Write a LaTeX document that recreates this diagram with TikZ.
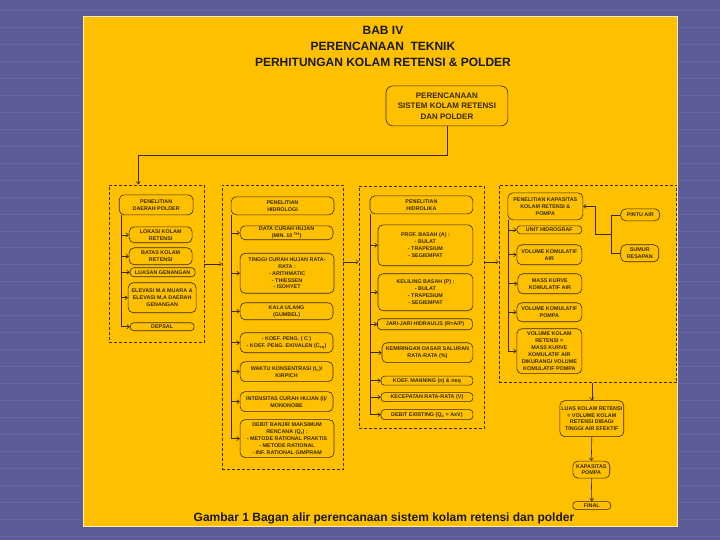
\documentclass[tikz,border=0pt]{standalone}
\usepackage{fontspec}
\setmainfont{Liberation Sans}
\usetikzlibrary{arrows.meta, calc}

\definecolor{slate}{HTML}{5C5C98}
\definecolor{slateline}{HTML}{6666A2}
\definecolor{amber}{HTML}{FFC000}
\definecolor{ink}{HTML}{3A2A05}
\definecolor{headink}{HTML}{1A1A1A}

\tikzset{
  box/.style={draw=ink, rounded corners=5pt, line width=0.6pt, align=center,
    inner sep=0.5pt, text=ink, font=\fontsize{5.4}{6.9}\selectfont\bfseries},
  slim/.style={rounded corners=3.5pt},
  group/.style={draw=ink, dash pattern=on 3pt off 2pt, line width=0.6pt},
  head/.style={align=center, text=headink, font=\fontsize{12}{16}\selectfont\bfseries},
}

\begin{document}
\begin{tikzpicture}[x=1pt, y=-1pt, >={Straight Barb[length=2.5pt,width=4pt]}, line width=0.6pt]
    % Background and sheet
    \fill[slate] (0,0) rectangle (720,540);
    \foreach \y in {10,27,...,540}
        \draw[slateline, line width=0.6pt] (0,\y) -- (720,\y);
    \draw[amber!30!white, fill=amber, line width=1pt] (83,17) rectangle (678,527);
    \useasboundingbox (0,0) rectangle (720,540);

    % Headings
    \node[head] (title) at (383,46) {BAB IV\\PERENCANAAN\ \ TEKNIK\\PERHITUNGAN KOLAM RETENSI \& POLDER};
    \node[head] (caption) at (384,519) {Gambar 1 Bagan alir perencanaan sistem kolam retensi dan polder};
    \node[box, rounded corners=7pt, minimum width=122pt, minimum height=40pt,
          font=\fontsize{8}{10.5}\selectfont\bfseries] (sistem) at (447,106)
          {PERENCANAAN\\SISTEM KOLAM RETENSI\\DAN POLDER};

    % Dashed groups
    \node[group, minimum width=95pt, minimum height=158pt] (g1) at (156.5,264) {};
    \node[group, minimum width=121pt, minimum height=285pt] (g2) at (282.5,327.5) {};
    \node[group, minimum width=125pt, minimum height=243pt] (g3) at (421.5,307.5) {};
    \node[group, minimum width=178pt, minimum height=198pt] (g4) at (588,284) {};

    % Daerah polder
    \node[box, minimum width=74pt, minimum height=20pt] (d1) at (156,205) {PENELITIAN\\DAERAH POLDER};
    \node[box, minimum width=63pt, minimum height=16pt] (d2) at (160.5,235) {LOKASI KOLAM\\RETENSI};
    \node[box, minimum width=63pt, minimum height=17pt] (d3) at (160.5,256.5) {BATAS KOLAM\\RETENSI};
    \node[box, slim, minimum width=65pt, minimum height=9pt] (d4) at (162.5,272.5) {LUASAN GENANGAN};
    \node[box, minimum width=68pt, minimum height=30pt] (d5) at (162,298) {ELEVASI M.A MUARA \&\\ELEVASI M.A DAERAH\\GENANGAN};
    \node[box, slim, minimum width=64pt, minimum height=8pt] (d6) at (162,327) {DEPSAL};

    % Hidrologi
    \node[box, minimum width=103pt, minimum height=18pt] (h1) at (282.5,206) {PENELITIAN\\HIDROLOGI};
    \node[box, minimum width=93pt, minimum height=14pt] (h2) at (286.5,233) {DATA CURAH HUJAN\\(MIN. 10 \textsuperscript{TH})};
    \node[box, minimum width=94pt, minimum height=40pt] (h3) at (287,273.5) {TINGGI CURAH HUJAN RATA-\\RATA :\\- ARITHMATIC\\- THIESSEN\\- ISOHYET};
    \node[box, minimum width=93pt, minimum height=17pt] (h4) at (286.5,311.5) {KALA ULANG\\(GUMBEL)};
    \node[box, minimum width=93pt, minimum height=20pt] (h5) at (286.5,343) {- KOEF. PENG. ( C )\\- KOEF. PENG. EKIVALEN (C\textsubscript{eq})};
    \node[box, minimum width=93pt, minimum height=20pt] (h6) at (286.5,372) {WAKTU KONSENTRASI (t\textsubscript{c})/\\KIRPICH};
    \node[box, minimum width=93pt, minimum height=20pt] (h7) at (286.5,402) {INTENSITAS CURAH HUJAN (I)/\\MONONOBE};
    \node[box, minimum width=94pt, minimum height=38pt] (h8) at (287,439) {DEBIT BANJIR MAKSIMUM\\RENCANA (Q\textsubscript{r}) :\\- METODE RATIONAL PRAKTIS\\- METODE RATIONAL\\- INF. RATIONAL GIMPRAM};

    % Hidrolika
    \node[box, minimum width=103pt, minimum height=18pt] (k1) at (421.5,205) {PENELITIAN\\HIDROLIKA};
    \node[box, minimum width=95pt, minimum height=41pt] (k2) at (425.5,245.5) {PROF. BASAH (A) :\\- BULAT\\- TRAPESIUM\\- SEGIEMPAT};
    \node[box, minimum width=95pt, minimum height=37pt] (k3) at (425.5,292.5) {KELILING BASAH (P) :\\- BULAT\\- TRAPESIUM\\- SEGIEMPAT};
    \node[box, slim, minimum width=95pt, minimum height=11pt] (k4) at (425,324.5) {JARI-JARI HIDRAULIS (R=A/P)};
    \node[box, minimum width=91pt, minimum height=20pt] (k5) at (427.5,353) {KEMIRINGAN DASAR SALURAN\\RATA-RATA (\%)};
    \node[box, slim, minimum width=92pt, minimum height=9pt] (k6) at (427,381) {KOEF. MANNING (n) \& neq};
    \node[box, slim, minimum width=92pt, minimum height=9pt] (k7) at (427,397.5) {KECEPATAN RATA-RATA (V)};
    \node[box, slim, minimum width=92pt, minimum height=10pt] (k8) at (427,415) {DEBIT EXISTING (Q\textsubscript{s} = AxV)};

    % Kapasitas kolam dan pompa
    \node[box, minimum width=75pt, minimum height=27pt] (p1) at (545.5,206.5) {PENELITIAN KAPASITAS\\KOLAM RETENSI \&\\POMPA};
    \node[box, slim, minimum width=65pt, minimum height=8pt] (p2) at (549.5,230) {UNIT HIDROGRAF};
    \node[box, minimum width=65pt, minimum height=20pt] (p3) at (549.5,255) {VOLUME KOMULATIF\\AIR};
    \node[box, minimum width=64pt, minimum height=20pt] (p4) at (550,284) {MASS KURVE\\KOMULATIF AIR};
    \node[box, minimum width=65pt, minimum height=19pt] (p5) at (549.5,312.5) {VOLUME KOMULATIF\\POMPA};
    \node[box, minimum width=65pt, minimum height=45pt] (p6) at (549.5,351.5) {VOLUME KOLAM\\RETENSI =\\MASS KURVE\\KOMULATIF AIR\\DIKURANGI VOLUME\\KOMULATIF POMPA};
    \node[box, minimum width=39pt, minimum height=12pt] (pintu) at (640.5,215) {PINTU AIR};
    \node[box, minimum width=38pt, minimum height=17pt] (sumur) at (640,253.5) {SUMUR\\RESAPAN};

    % Hasil akhir
    \node[box, minimum width=64pt, minimum height=36pt] (luas) at (592,419) {LUAS KOLAM RETENSI\\= VOLUME KOLAM\\RETENSI DIBAGI\\TINGGI AIR EFEKTIF};
    \node[box, minimum width=37pt, minimum height=17pt] (kap) at (591.5,470) {KAPASITAS\\POMPA};
    \node[box, slim, minimum width=38pt, minimum height=8pt] (final) at (592,506) {FINAL};

    % Define coordinates
    \coordinate (turn) at (138,155);
    \coordinate (l1) at (121,0);
    \coordinate (l2) at (231,0);
    \coordinate (l3) at (370,0);
    \coordinate (l4) at (508,0);
    \coordinate (pj) at (612,234);
    \coordinate (pk) at (595,234);

    % Draw connectors
    \draw[ink, ->] (sistem.south) |- (turn) -- (turn |- g1.north);
    \draw[ink, ->, line width=0.4pt] (g1.east |- 0,264) -- (g2.west |- 0,264);
    \draw[ink, ->, line width=0.4pt] (g2.east |- 0,262) -- (g3.west |- 0,262);
    \draw[ink, ->, line width=0.4pt] (g3.east |- 0,262) -- (g4.west |- 0,262);

    \draw[ink] (d1.south -| l1) -- (d6.west -| l1);
    \foreach \n in {d2,d3,d4,d5,d6}
        \draw[ink, ->] (\n.west -| l1) -- (\n.west);
    \draw[ink] (h1.south -| l2) -- (h8.west -| l2);
    \foreach \n in {h2,h3,h4,h5,h6,h7,h8}
        \draw[ink, ->] (\n.west -| l2) -- (\n.west);
    \draw[ink] (k1.south -| l3) -- (k8.west -| l3);
    \foreach \n in {k2,k3,k4,k5,k6,k7,k8}
        \draw[ink, ->] (\n.west -| l3) -- (\n.west);
    \draw[ink] (p1.south -| l4) -- (p6.west -| l4);
    \foreach \n in {p2,p3,p4,p5,p6}
        \draw[ink, ->] (\n.west -| l4) -- (\n.west);

    \draw[ink] (pintu.west) -- (pintu.west -| pj) -- (sumur.west -| pj) -- (sumur.west);
    \draw[ink, ->] (pj) -- (pk) |- (p1.east);

    \draw[ink, ->] (luas.north |- g4.south) -- (luas.north);
    \draw[ink, ->] (luas.south) -- (kap.north);
    \draw[ink, ->] (kap.south) -- (final.north);
\end{tikzpicture}
\end{document}
